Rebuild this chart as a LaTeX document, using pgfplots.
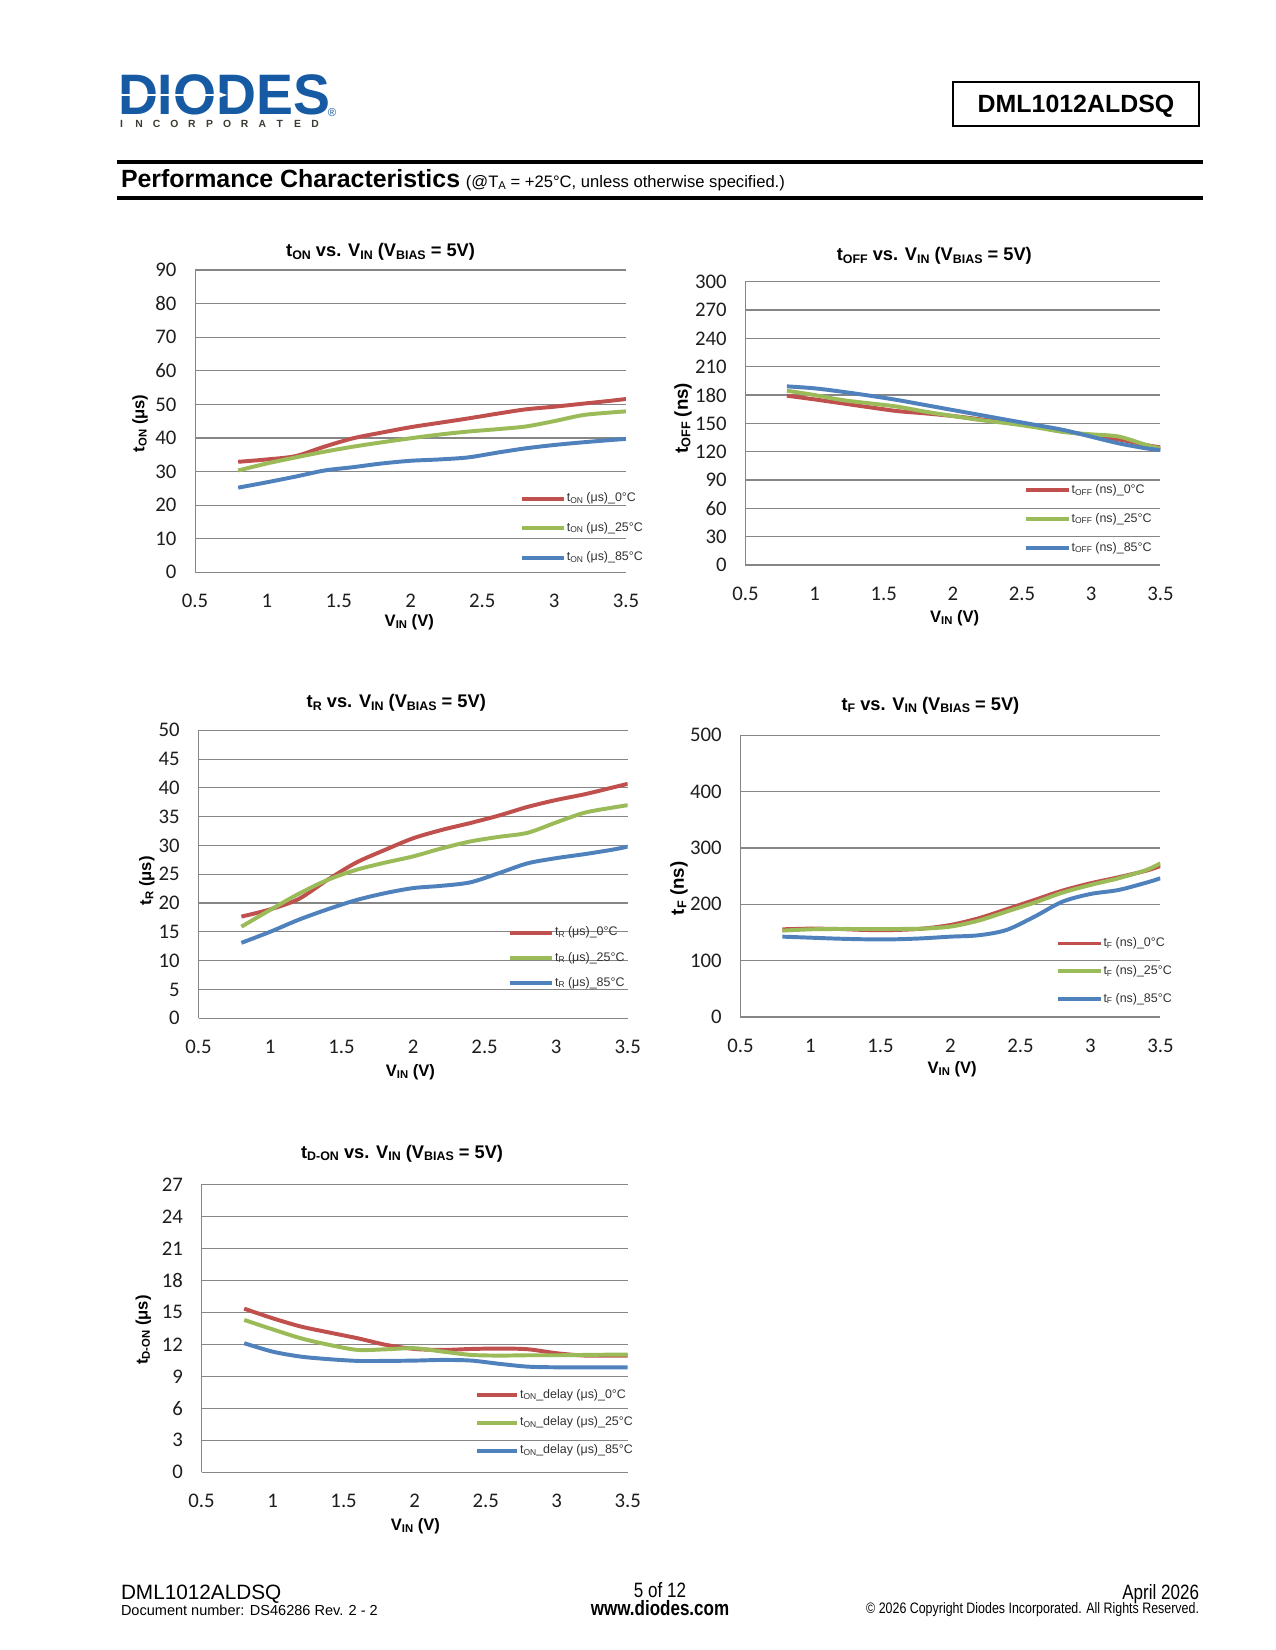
\documentclass[border=0pt]{standalone}
\usepackage{fontspec}
\setmainfont{Liberation Sans}
\newfontfamily\carlito{Carlito}
\newfontfamily\narrow[FakeStretch=0.82]{Liberation Sans}
\usepackage{graphicx}
\usepackage{pgfplots}
\pgfplotsset{compat=1.18}
\definecolor{cred}{RGB}{192,80,77}
\definecolor{cgreen}{RGB}{155,187,89}
\definecolor{cblue}{RGB}{79,129,189}
\definecolor{gridgray}{RGB}{134,134,134}
\definecolor{tickcol}{RGB}{30,30,30}
\definecolor{legcol}{RGB}{50,50,50}
\definecolor{logoblue}{RGB}{22,90,163}
\definecolor{logogray}{RGB}{60,60,52}
\newcommand{\sub}[1]{\raisebox{-0.25ex}{\scalebox{0.68}{#1}}}
\newcommand{\tickfont}{\carlito\fontsize{10}{12}\selectfont}
\newcommand{\legfont}{\fontsize{6}{7}\selectfont}
\pgfplotsset{
  rs/.style={color=cred, line width=1.9pt},
  gs/.style={color=cgreen, line width=1.9pt},
  bs/.style={color=cblue, line width=1.9pt},
  dstyle/.style={
    scale only axis, anchor=north west,
    axis lines*=left,
    axis line style={draw=gridgray, line width=0.55pt, -},
    ymajorgrids, grid style={draw=gridgray, line width=0.55pt},
    major tick length=0pt,
    xmin=0.5, xmax=3.5, xtick={0.5,1,1.5,2,2.5,3,3.5}, ymin=0,
    tick label style={font=\tickfont, text=tickcol},
    xticklabel style={yshift=-7pt},
    yticklabel style={xshift=-5.5pt},
    /pgf/number format/assume math mode=true,
    every axis plot/.append style={smooth, tension=0.5},
    legend cell align=left,
    legend style={draw=none, fill=none, inner sep=0pt, outer sep=0pt, font=\legfont, text=legcol,
      nodes={inner sep=0pt, inner xsep=0.5pt, text height=4.5pt, text depth=1.5pt}},
    legend image code/.code={\draw[##1] (0pt,0pt) -- (20.3bp,0pt);},
  }
}
\begin{document}
\begin{tikzpicture}[x=0.48bp,y=-0.48bp, t/.style={inner sep=0pt, outer sep=0pt}]
\path[use as bounding box] (0,0) rectangle (1275,1650);
\fill[white] (0,0) rectangle (1275,1650);

% ---------- logo ----------
\node[t, anchor=base west, text=logoblue] at (118,114.5)
  {\scalebox{0.97}[1]{\fontsize{27.5}{29}\selectfont\bfseries DIODES}};
\draw[white, line width=1.2pt] (119,95) -- (222,95);
\fill[white] (217,91.5) -- (227,95) -- (217,98.5) -- cycle;
\node[t, text=logoblue] at (332,113) {\fontsize{5.5}{6}\selectfont ®};
\foreach \l [count=\i from 0] in {I,N,C,O,R,P,O,R,A,T,E,D}
  \node[t, anchor=base, text=logogray] at ({121.5+17.6*\i},127) {\fontsize{5}{6}\selectfont\bfseries \l};

% ---------- header box ----------
\draw[line width=0.75pt] (953,82) rectangle (1199,126);
\node[t, anchor=base] at (1076,112) {\fontsize{12}{14}\selectfont\bfseries DML1012ALDSQ};

% ---------- rules and section title ----------
\draw[line width=1.45pt] (117,162) -- (1203,162);
\draw[line width=1.45pt] (117,198) -- (1203,198);
\node[t, anchor=base west] at (121,187)
  {{\fontsize{12}{14}\selectfont\bfseries Performance Characteristics} {\fontsize{8}{10}\selectfont (@T\sub{A} = +25°C, unless otherwise specified.)}};

% ---------- chart 1 ----------
\coordinate (c1) at (195.1,270);
\begin{axis}[dstyle, at={(c1)}, width=206.8bp, height=145.1bp,
  ymax=90, ytick={0,10,...,90},
  legend style={at={(0.753,0.264)}, anchor=north west, row sep=8.2pt}]
\addplot[rs] coordinates {(0.8,32.9)(1.0,33.6)(1.2,34.6)(1.4,37.4)(1.6,39.9)(1.8,41.6)(2.0,43.2)(2.2,44.5)(2.4,45.8)(2.6,47.2)(2.8,48.5)(3.0,49.3)(3.2,50.2)(3.4,51.1)(3.5,51.6)};
\addlegendentry{t\sub{ON} (μs)\_0°C}
\addplot[gs] coordinates {(0.8,30.3)(1.0,32.4)(1.2,34.2)(1.4,35.9)(1.6,37.4)(1.8,38.7)(2.0,39.9)(2.2,41.0)(2.4,41.9)(2.6,42.6)(2.8,43.4)(3.0,45.0)(3.2,46.8)(3.4,47.6)(3.5,47.9)};
\addlegendentry{t\sub{ON} (μs)\_25°C}
\addplot[bs] coordinates {(0.8,25.2)(1.0,26.8)(1.2,28.5)(1.4,30.3)(1.6,31.3)(1.8,32.4)(2.0,33.2)(2.2,33.6)(2.4,34.2)(2.6,35.6)(2.8,36.9)(3.0,37.9)(3.2,38.7)(3.4,39.4)(3.5,39.7)};
\addlegendentry{t\sub{ON} (μs)\_85°C}
\end{axis}
\node[t, anchor=base] at (380.6,256.7) {\fontsize{8.8}{11}\selectfont\bfseries t\sub{ON} vs. V\sub{IN} (V\sub{BIAS} = 5V)};
\node[t, anchor=base] at (409.3,626.7) {\fontsize{8}{10}\selectfont\bfseries V\sub{IN} (V)};
\node[t, anchor=base, rotate=90] at (144.4,423.3) {\fontsize{8}{10}\selectfont\bfseries t\sub{ON} (μs)};

% ---------- chart 2 ----------
\coordinate (c2) at (745.4,281.7);
\begin{axis}[dstyle, at={(c2)}, width=199.2bp, height=136.0bp,
  ymax=300, ytick={0,30,...,300},
  legend style={at={(0.672,0.2859)}, anchor=north west, row sep=7.9pt}]
\addplot[rs] coordinates {(0.8,179.3)(1.0,175.4)(1.2,171.2)(1.4,167)(1.6,163)(1.8,160.6)(2.0,157.8)(2.2,154.3)(2.4,150.7)(2.6,146.5)(2.8,141.9)(3.0,137)(3.2,133)(3.4,127)(3.5,124.6)};
\addlegendentry{t\sub{OFF} (ns)\_0°C}
\addplot[gs] coordinates {(0.8,184.6)(1.0,180)(1.2,174.7)(1.4,171.2)(1.6,167.7)(1.8,162.4)(2.0,157.8)(2.2,153.5)(2.4,150)(2.6,145.8)(2.8,140.8)(3.0,138.4)(3.2,136)(3.4,127)(3.5,123.5)};
\addlegendentry{t\sub{OFF} (ns)\_25°C}
\addplot[bs] coordinates {(0.8,189.2)(1.0,187.1)(1.2,183.5)(1.4,179.3)(1.6,174.7)(1.8,169.4)(2.0,164.1)(2.2,158.8)(2.4,153.5)(2.6,148.3)(2.8,143)(3.0,135.9)(3.2,128.8)(3.4,123.5)(3.5,121.8)};
\addlegendentry{t\sub{OFF} (ns)\_85°C}
\end{axis}
\node[t, anchor=base] at (934.3,260.7) {\fontsize{8.8}{11}\selectfont\bfseries t\sub{OFF} vs. V\sub{IN} (V\sub{BIAS} = 5V)};
\node[t, anchor=base] at (954.6,622.7) {\fontsize{8}{10}\selectfont\bfseries V\sub{IN} (V)};
\node[t, anchor=base, rotate=90] at (687.9,418.3) {\fontsize{9}{11}\selectfont\bfseries t\sub{OFF} (ns)};

% ---------- chart 3 ----------
\coordinate (c3) at (198.5,730.3);
\begin{axis}[dstyle, at={(c3)}, width=206.0bp, height=138.2bp,
  ymax=50, ytick={0,5,...,50},
  legend style={at={(0.7206,0.3184)}, anchor=north west, row sep=6.1pt}]
\addplot[rs] coordinates {(0.8,17.65)(1.0,18.9)(1.2,20.7)(1.4,24.0)(1.6,27.0)(1.8,29.2)(2.0,31.25)(2.2,32.7)(2.4,33.9)(2.6,35.2)(2.8,36.7)(3.0,37.9)(3.2,38.9)(3.4,40.1)(3.5,40.7)};
\addlegendentry{t\sub{R} (μs)\_0°C}
\addplot[gs] coordinates {(0.8,15.9)(1.0,18.8)(1.2,21.6)(1.4,24.0)(1.6,25.75)(1.8,27.0)(2.0,28.1)(2.2,29.5)(2.4,30.7)(2.6,31.5)(2.8,32.2)(3.0,34.0)(3.2,35.7)(3.4,36.6)(3.5,37.0)};
\addlegendentry{t\sub{R} (μs)\_25°C}
\addplot[bs] coordinates {(0.8,13.1)(1.0,15.0)(1.2,17.1)(1.4,18.9)(1.6,20.5)(1.8,21.7)(2.0,22.6)(2.2,23.0)(2.4,23.6)(2.6,25.2)(2.8,26.9)(3.0,27.8)(3.2,28.5)(3.4,29.3)(3.5,29.8)};
\addlegendentry{t\sub{R} (μs)\_85°C}
\end{axis}
\node[t, anchor=base] at (396.3,707.7) {\fontsize{8.8}{11}\selectfont\bfseries t\sub{R} vs. V\sub{IN} (V\sub{BIAS} = 5V)};
\node[t, anchor=base] at (410.4,1076.7) {\fontsize{8}{10}\selectfont\bfseries V\sub{IN} (V)};
\node[t, anchor=base, rotate=90] at (151.1,880.8) {\fontsize{8}{10}\selectfont\bfseries t\sub{R} (μs)};

% ---------- chart 4 ----------
\coordinate (c4) at (740.4,735.3);
\begin{axis}[dstyle, at={(c4)}, width=201.6bp, height=135.2bp,
  ymax=500, ytick={0,100,...,500},
  legend style={at={(0.752,0.283)}, anchor=north west, row sep=7.4pt}]
\addplot[rs] coordinates {(0.8,155.6)(1.0,156.8)(1.2,156.2)(1.4,154.4)(1.6,154.4)(1.8,156.8)(2.0,163.3)(2.2,175.1)(2.4,191.1)(2.6,207.7)(2.8,224.3)(3.0,237.3)(3.2,248)(3.4,259.8)(3.5,268)};
\addlegendentry{t\sub{F} (ns)\_0°C}
\addplot[gs] coordinates {(0.8,153.3)(1.0,155.6)(1.2,156.2)(1.4,156.2)(1.6,156.2)(1.8,156.8)(2.0,160.4)(2.2,171)(2.4,187)(2.6,203)(2.8,220.7)(3.0,234.3)(3.2,246.2)(3.4,261)(3.5,272.8)};
\addlegendentry{t\sub{F} (ns)\_25°C}
\addplot[bs] coordinates {(0.8,142.6)(1.0,140.8)(1.2,139)(1.4,137.9)(1.6,137.9)(1.8,139.6)(2.0,142.6)(2.2,145)(2.4,154.4)(2.6,178)(2.8,204.7)(3.0,218.3)(3.2,225.4)(3.4,238.5)(3.5,246.2)};
\addlegendentry{t\sub{F} (ns)\_85°C}
\end{axis}
\node[t, anchor=base] at (930.4,710) {\fontsize{8.8}{11}\selectfont\bfseries t\sub{F} vs. V\sub{IN} (V\sub{BIAS} = 5V)};
\node[t, anchor=base] at (952.2,1073) {\fontsize{8}{10}\selectfont\bfseries V\sub{IN} (V)};
\node[t, anchor=base, rotate=90] at (683.8,888.3) {\fontsize{9}{11}\selectfont\bfseries t\sub{F} (ns)};

% ---------- chart 5 ----------
\coordinate (c5) at (201.6,1184.3);
\begin{axis}[dstyle, at={(c5)}, width=204.5bp, height=138.2bp,
  ymax=27, ytick={0,3,...,27},
  legend image code/.code={\draw[#1] (0pt,0pt) -- (19.5bp,0pt);},
  legend style={at={(0.6406,0.2898)}, anchor=north west, row sep=7.4pt}]
\addplot[rs] coordinates {(0.8,15.34)(1.0,14.44)(1.2,13.66)(1.4,13.1)(1.6,12.56)(1.8,11.94)(2.0,11.56)(2.2,11.47)(2.4,11.56)(2.6,11.6)(2.8,11.53)(3.0,11.16)(3.2,10.94)(3.4,10.94)(3.5,10.94)};
\addlegendentry{t\sub{ON}\_delay (μs)\_0°C}
\addplot[gs] coordinates {(0.8,14.28)(1.0,13.4)(1.2,12.56)(1.4,11.94)(1.6,11.47)(1.8,11.53)(2.0,11.63)(2.2,11.31)(2.4,11.0)(2.6,10.94)(2.8,10.97)(3.0,10.97)(3.2,11.0)(3.4,11.03)(3.5,11.03)};
\addlegendentry{t\sub{ON}\_delay (μs)\_25°C}
\addplot[bs] coordinates {(0.8,12.1)(1.0,11.31)(1.2,10.84)(1.4,10.6)(1.6,10.44)(1.8,10.44)(2.0,10.47)(2.2,10.53)(2.4,10.47)(2.6,10.16)(2.8,9.9)(3.0,9.84)(3.2,9.84)(3.4,9.84)(3.5,9.84)};
\addlegendentry{t\sub{ON}\_delay (μs)\_85°C}
\end{axis}
\node[t, anchor=base] at (402.1,1158.3) {\fontsize{8.8}{11}\selectfont\bfseries t\sub{D-ON} vs. V\sub{IN} (V\sub{BIAS} = 5V)};
\node[t, anchor=base] at (415.4,1530) {\fontsize{8}{10}\selectfont\bfseries V\sub{IN} (V)};
\node[t, anchor=base, rotate=90] at (147.7,1330) {\fontsize{8}{10}\selectfont\bfseries t\sub{D-ON} (μs)};

% ---------- footer ----------
\node[t, anchor=base west] at (121,1599.5) {\fontsize{10}{12}\selectfont DML1012ALDSQ};
\node[t, anchor=base west] at (121,1615) {\fontsize{7}{8}\selectfont Document number: DS46286 Rev. 2 - 2};
\node[t, anchor=base] at (660,1597.5) {\narrow\fontsize{10}{12}\selectfont 5 of 12};
\node[t, anchor=base] at (660,1615.5) {\narrow\fontsize{10}{12}\selectfont\bfseries www.diodes.com};
\node[t, anchor=base east] at (1199,1599) {\narrow\fontsize{10}{12}\selectfont April 2026};
\node[t, anchor=base east] at (1199,1613.5) {\narrow\fontsize{7.3}{8}\selectfont © 2026 Copyright Diodes Incorporated. All Rights Reserved.};
\end{tikzpicture}
\end{document}
